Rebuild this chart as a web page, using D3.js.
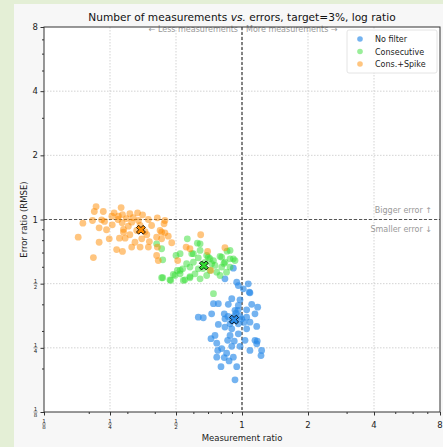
<!DOCTYPE html>
<html>
<head>
<meta charset="utf-8">
<script src="https://cdn.jsdelivr.net/npm/d3@7"></script>
<style>
  body { margin: 0; background: #e4efd6; }
  svg { display: block; font-family: "DejaVu Sans", sans-serif; }
</style>
</head>
<body>
<div id="chart"></div>
<script>
// Width and height
var chart_width  = 443;
var chart_height = 447;

// Data (ratios)
var seriesNames  = ["No filter", "Consecutive", "Cons.+Spike"];
var seriesColors = ["#2a8be8", "#33dd33", "#ff8c00"];

var noFilterX = [0.836,0.946,0.962,1.068,1.080,1.014,0.898,0.979,0.866,0.741,0.780,0.727,0.632,0.666,0.830,0.929,0.962,1.050,1.107,1.179,1.146,1.050,1.087,0.836,0.882,0.962,0.780,0.836,1.050,1.167,0.962,0.882,0.860,0.753,0.722,0.767,0.922,1.032,1.146,1.167,0.898,0.808,0.851,0.775,0.767,0.830,0.873,0.913,0.802,0.946,0.979,1.087,1.229,1.221,0.929,0.922,0.898,0.936,0.997,1.087,1.174,0.913,0.939,0.979,0.900,0.863,1.021,0.959];
var noFilterY = [0.527,0.508,0.490,0.499,0.456,0.473,0.425,0.420,0.400,0.403,0.403,0.361,0.348,0.346,0.361,0.375,0.395,0.377,0.400,0.388,0.361,0.348,0.330,0.342,0.324,0.324,0.322,0.313,0.307,0.315,0.291,0.286,0.271,0.286,0.276,0.263,0.269,0.271,0.271,0.261,0.254,0.248,0.236,0.243,0.226,0.225,0.217,0.226,0.204,0.204,0.254,0.243,0.243,0.230,0.177,0.351,0.307,0.336,0.342,0.453,0.269,0.591,0.363,0.351,0.336,0.351,0.329,0.375];

var consecX = [0.563,0.626,0.590,0.644,0.500,0.408,0.435,0.507,0.486,0.435,0.473,0.540,0.579,0.536,0.559,0.600,0.632,0.702,0.741,0.794,0.855,0.882,0.836,0.929,0.808,0.767,0.714,0.632,0.610,0.690,0.794,0.850,0.882,0.727,0.579,0.644,0.522,0.644,0.522,0.430,0.600,0.690,0.808,0.882,0.913,0.469,0.430,0.495,0.549,0.579,0.522,0.741,0.678,0.753,0.664,0.827,0.714];
var consecY = [0.812,0.774,0.691,0.716,0.678,0.769,0.647,0.577,0.552,0.533,0.518,0.518,0.533,0.587,0.620,0.631,0.661,0.666,0.642,0.671,0.710,0.654,0.631,0.642,0.598,0.566,0.577,0.587,0.556,0.546,0.546,0.566,0.598,0.620,0.598,0.527,0.556,0.769,0.691,0.729,0.691,0.678,0.666,0.716,0.654,0.521,0.533,0.546,0.521,0.540,0.577,0.449,0.629,0.609,0.589,0.622,0.656];

var spikeX = [0.216,0.212,0.233,0.281,0.261,0.285,0.308,0.334,0.352,0.255,0.273,0.208,0.188,0.229,0.256,0.241,0.223,0.236,0.288,0.303,0.284,0.314,0.337,0.374,0.411,0.445,0.288,0.308,0.361,0.387,0.423,0.445,0.179,0.223,0.248,0.276,0.293,0.325,0.349,0.378,0.408,0.430,0.461,0.314,0.343,0.374,0.411,0.268,0.285,0.210,0.408,0.415,0.331,0.343,0.368,0.441,0.430,0.478,0.556,0.579,0.648,0.697,0.836,0.509,0.720,0.297,0.319,0.272];
var spikeY = [1.150,1.090,1.090,1.138,1.075,1.055,1.064,1.075,1.052,1.036,1.036,0.989,0.961,0.997,0.944,0.895,0.914,0.979,0.898,0.930,0.965,0.971,0.989,1.000,1.018,0.989,0.872,0.848,0.878,0.937,0.888,0.866,0.826,0.782,0.812,0.817,0.817,0.782,0.812,0.788,0.826,0.812,0.835,0.742,0.742,0.742,0.742,0.723,0.708,0.663,0.678,0.642,0.888,0.937,0.848,0.955,0.872,0.778,0.742,0.729,0.848,0.708,0.737,0.642,0.577,1.010,1.020,1.000];

var meanX = [0.920, 0.670, 0.346];
var meanY = [0.339, 0.609, 0.895];

var majorTicks  = [1/8, 1/4, 1/2, 1, 2, 4, 8];
var majorLabels = ["1/8", "1/4", "1/2", "1", "2", "4", "8"];
var minorTicks  = [0.2, 0.3, 0.4, 0.6, 0.7, 0.8, 0.9, 3, 5, 6, 7];

var points = [
    noFilterX.map(function(d, i){ return { x: d, y: noFilterY[i], s: 0 }; }),
    consecX.map(function(d, i){ return { x: d, y: consecY[i], s: 1 }; }),
    spikeX.map(function(d, i){ return { x: d, y: spikeY[i], s: 2 }; })
];

// Create SVG
var svg = d3.select("#chart")
    .append("svg")
    .attr("width", chart_width)
    .attr("height", chart_height);

// figure background (green page strip left + top)
svg.append("rect")
    .attr("x", 14).attr("y", 4)
    .attr("width", chart_width - 14).attr("height", chart_height - 4)
    .attr("fill", "#f7f7f7");

var plotL = 44, plotR = 440, plotT = 27, plotB = 412;

var x = d3.scaleLog().base(2).domain([1/8, 8]).range([plotL, plotR]);
var y = d3.scaleLog().base(2).domain([1/8, 8]).range([plotB, plotT]);

svg.append("rect")
    .attr("x", plotL).attr("y", plotT)
    .attr("width", plotR - plotL).attr("height", plotB - plotT)
    .attr("fill", "#fff");

// grid
var grid = svg.append("g").attr("stroke", "#c8c8c8").attr("stroke-width", 0.8).attr("stroke-dasharray", "1.5,1.5");
majorTicks.slice(1, -1).forEach(function(t){
    grid.append("line").attr("x1", x(t)).attr("x2", x(t)).attr("y1", plotT).attr("y2", plotB);
    grid.append("line").attr("y1", y(t)).attr("y2", y(t)).attr("x1", plotL).attr("x2", plotR);
});

// reference lines at 1
svg.append("line")
    .attr("x1", x(1)).attr("x2", x(1)).attr("y1", plotT).attr("y2", plotB)
    .attr("stroke", "#111").attr("stroke-width", 1).attr("stroke-dasharray", "3,2");
svg.append("line")
    .attr("x1", plotL).attr("x2", plotR).attr("y1", y(1)).attr("y2", y(1))
    .attr("stroke", "#555").attr("stroke-width", 1).attr("stroke-dasharray", "3,2");

// annotations
var ann = svg.append("g").attr("fill", "#999").style("font-size", "8px");
ann.append("text").attr("x", x(1) - 4).attr("y", plotT + 5).attr("text-anchor", "end").text("\u2190 Less measurements");
ann.append("text").attr("x", x(1) + 4).attr("y", plotT + 5).text("More measurements \u2192");
ann.append("text").attr("x", plotR - 8).attr("y", y(1) - 7).attr("text-anchor", "end").text("Bigger error \u2191");
ann.append("text").attr("x", plotR - 8).attr("y", y(1) + 12).attr("text-anchor", "end").text("Smaller error \u2193");

// dots
points.forEach(function(series, si){
    svg.append("g")
        .selectAll("circle")
        .data(series)
        .enter()
        .append("circle")
        .attr("cx", function(d){ return x(d.x); })
        .attr("cy", function(d){ return y(d.y); })
        .attr("r", 3.4)
        .attr("fill", seriesColors[si])
        .attr("fill-opacity", si === 0 ? 0.65 : 0.5);
});

// mean markers (X shape)
var xShape = d3.symbol().type(d3.symbolCross).size(50);
meanX.forEach(function(mx, i){
    svg.append("path")
        .attr("d", xShape())
        .attr("transform", "translate(" + x(mx) + "," + y(meanY[i]) + ") rotate(45)")
        .attr("fill", seriesColors[i])
        .attr("stroke", "#000")
        .attr("stroke-width", 0.8);
});

// axes frame
svg.append("rect")
    .attr("x", plotL).attr("y", plotT)
    .attr("width", plotR - plotL).attr("height", plotB - plotT)
    .attr("fill", "none").attr("stroke", "#333").attr("stroke-width", 1);

var xAxis = svg.append("g").attr("transform", "translate(0," + plotB + ")")
    .call(d3.axisBottom(x).tickValues(majorTicks).tickSize(3.5).tickFormat(""));
var xMinor = svg.append("g").attr("transform", "translate(0," + plotB + ")")
    .call(d3.axisBottom(x).tickValues(minorTicks).tickSize(2).tickFormat(""));
var yAxis = svg.append("g").attr("transform", "translate(" + plotL + ",0)")
    .call(d3.axisLeft(y).tickValues(majorTicks).tickSize(3.5).tickFormat(""));
var yMinor = svg.append("g").attr("transform", "translate(" + plotL + ",0)")
    .call(d3.axisLeft(y).tickValues(minorTicks).tickSize(2).tickFormat(""));
[xAxis, xMinor, yAxis, yMinor].forEach(function(a){
    a.select(".domain").remove();
    a.selectAll("line").attr("stroke", "#333");
});

// tick labels (fractions stacked)
function tickLabel(g, cx, cy, label, anchor){
    if (label.indexOf("/") < 0) {
        g.append("text").attr("x", cx).attr("y", cy + 3)
            .attr("text-anchor", anchor).style("font-size", "8.5px").attr("fill", "#222")
            .text(label);
        return;
    }
    var parts = label.split("/");
    var fx = anchor === "end" ? cx - 2.5 : cx;
    g.append("text").attr("x", fx).attr("y", cy - 1).attr("text-anchor", "middle")
        .style("font-size", "5.5px").attr("fill", "#222").text(parts[0]);
    g.append("line").attr("x1", fx - 2).attr("x2", fx + 2).attr("y1", cy).attr("y2", cy)
        .attr("stroke", "#222").attr("stroke-width", 0.5);
    g.append("text").attr("x", fx).attr("y", cy + 5).attr("text-anchor", "middle")
        .style("font-size", "5.5px").attr("fill", "#222").text(parts[1]);
}
var labels = svg.append("g");
majorTicks.forEach(function(t, i){
    tickLabel(labels, plotL - 6, y(t), majorLabels[i], "end");
    var lab = majorLabels[i];
    tickLabel(labels, x(t), lab.indexOf("/") < 0 ? plotB + 13 : plotB + 12, lab, "middle");
});

// axis titles
svg.append("text")
    .attr("x", (plotL + plotR) / 2).attr("y", 441)
    .attr("text-anchor", "middle").style("font-size", "8.5px").attr("fill", "#222")
    .text("Measurement ratio");
svg.append("text")
    .attr("transform", "translate(27," + y(1) + ") rotate(-90)")
    .attr("text-anchor", "middle").style("font-size", "8.5px").attr("fill", "#222")
    .text("Error ratio (RMSE)");

// title
var title = svg.append("text")
    .attr("x", (plotL + plotR) / 2).attr("y", 21)
    .attr("text-anchor", "middle").style("font-size", "10.6px").attr("fill", "#111");
title.append("tspan").text("Number of measurements ");
title.append("tspan").style("font-style", "italic").text("vs.");
title.append("tspan").text("  errors, target=3%, log ratio");

// legend
var legend = svg.append("g").attr("transform", "translate(347,30)");
legend.append("rect")
    .attr("width", 90).attr("height", 43).attr("rx", 2)
    .attr("fill", "#fff").attr("fill-opacity", 0.85)
    .attr("stroke", "#ddd").attr("stroke-width", 0.8);
seriesNames.forEach(function(name, i){
    legend.append("circle")
        .attr("cx", 13).attr("cy", 9 + i * 12.5).attr("r", 2.8)
        .attr("fill", seriesColors[i]).attr("fill-opacity", i === 0 ? 0.65 : 0.5);
    legend.append("text")
        .attr("x", 28).attr("y", 12 + i * 12.5)
        .style("font-size", "8px").attr("fill", "#222")
        .text(name);
});
</script>
</body>
</html>
